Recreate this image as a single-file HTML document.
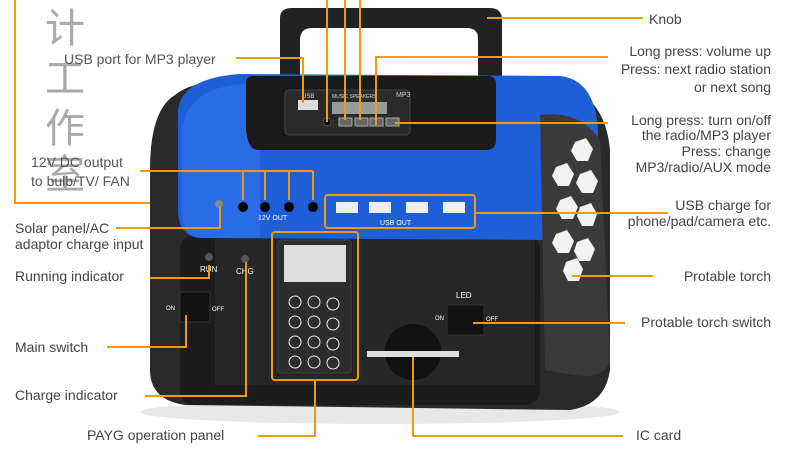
<!DOCTYPE html>
<html><head><meta charset="utf-8"><style>
html,body{margin:0;padding:0;background:#fff;}
svg{display:block;}
text{font-family:"Liberation Sans","Noto Sans CJK SC",sans-serif;fill:#444;font-size:14px;}
</style></head><body>
<svg width="790" height="463" viewBox="0 0 790 463" xmlns="http://www.w3.org/2000/svg">
<text x="45" y="42" style="font-size:40px;fill:#aaa">计</text>
<text x="45" y="92" style="font-size:40px;fill:#aaa">工</text>
<text x="45" y="142" style="font-size:40px;fill:#aaa">作</text>
<text x="45" y="188" style="font-size:40px;fill:#aaa">室</text>
<!-- handle -->
<path d="M280,80 L280,18 Q280,8 292,8 L490,8 Q502,8 502,20 L502,90 L478,90 L478,38 Q478,28 466,28 L312,28 Q300,28 300,40 L300,80 Z" fill="#222"/>
<ellipse cx="380" cy="412" rx="240" ry="12" fill="#e8e8e8"/>
<path d="M175,95 Q150,110 150,170 L150,370 Q150,400 185,405 L570,410 Q605,405 610,370 L610,150 Q605,95 560,85 L230,80 Q190,82 175,95 Z" fill="#2a2a2a"/>
<rect x="180" y="235" width="360" height="170" rx="14" fill="#1c1c1c"/>
<rect x="215" y="235" width="320" height="150" fill="#262626"/>
<path d="M178,110 Q182,78 240,74 L560,76 Q595,80 598,130 L598,215 Q596,240 560,240 L200,238 Q178,236 178,210 Z" fill="#1e5fd8"/>
<path d="M182,130 Q186,90 240,84 L260,84 L260,238 L200,238 Q182,236 182,210 Z" fill="#2a6be6"/>
<!-- top black module -->
<path d="M246,82 Q246,76 254,76 L488,76 Q496,76 496,84 L496,140 Q496,150 486,150 L258,150 Q248,150 246,130 Z" fill="#1a1a1a"/>
<rect x="285" y="90" width="125" height="45" rx="4" fill="#2a2a2a" stroke="#444"/>
<rect x="298" y="100" width="20" height="10" fill="#ddd"/>
<text x="302" y="98" style="font-size:6px;fill:#ddd">USB</text>
<text x="332" y="98" style="font-size:5px;fill:#ddd">MUSIC SPEAKERS</text>
<rect x="332" y="102" width="55" height="12" fill="#9a9a9a"/>
<circle cx="327" cy="122" r="4" fill="#000" stroke="#555"/>
<rect x="339" y="118" width="13" height="8" fill="#666" stroke="#aaa"/>
<rect x="355" y="118" width="13" height="8" fill="#666" stroke="#aaa"/>
<rect x="370" y="118" width="13" height="8" fill="#666" stroke="#aaa"/>
<rect x="386" y="118" width="13" height="8" fill="#666" stroke="#aaa"/>
<text x="396" y="97" style="font-size:7px;fill:#ccc">MP3</text>
<!-- right torch -->
<path d="M540,115 Q580,110 600,140 L610,360 Q605,380 575,375 L545,370 Z" fill="#3a3a3a"/>
<g fill="#f2f2f2">
<polygon points="575,142 586,138 593,149 588,161 577,161 571,151"/>
<polygon points="556,167 567,163 574,174 569,186 558,186 552,176"/>
<polygon points="580,174 591,170 598,181 593,193 582,193 576,183"/>
<polygon points="560,200 571,196 578,207 573,219 562,219 556,209"/>
<polygon points="580,207 591,203 597,214 593,226 582,226 577,216"/>
<polygon points="556,234 567,230 574,241 569,253 558,253 552,243"/>
<polygon points="577,242 588,238 595,249 590,261 579,261 574,251"/>
<polygon points="566,262 577,258 583,269 579,281 568,281 563,271"/>
</g>
<circle cx="219" cy="204" r="4" fill="#888"/>
<circle cx="243" cy="207" r="5" fill="#000"/><circle cx="265" cy="207" r="5" fill="#000"/>
<circle cx="289" cy="207" r="5" fill="#000"/><circle cx="313" cy="207" r="5" fill="#000"/>
<text x="258" y="220" style="font-size:7px;fill:#fff">12V  OUT</text>
<g fill="#eee"><rect x="336" y="202" width="22" height="11"/><rect x="369" y="202" width="22" height="11"/><rect x="406" y="202" width="22" height="11"/><rect x="443" y="202" width="22" height="11"/></g>
<text x="380" y="225" style="font-size:7px;fill:#fff">USB   OUT</text>
<circle cx="209" cy="257" r="4" fill="#555"/><circle cx="245" cy="259" r="4" fill="#555"/>
<text x="200" y="272" style="font-size:8px;fill:#fff">RUN</text>
<text x="236" y="274" style="font-size:8px;fill:#fff">CHG</text>
<rect x="180" y="292" width="30" height="30" fill="#111" stroke="#333"/>
<text x="166" y="310" style="font-size:6px;fill:#fff">ON</text><text x="212" y="311" style="font-size:6px;fill:#fff">OFF</text>
<rect x="447" y="305" width="37" height="30" fill="#111" stroke="#333"/>
<text x="456" y="298" style="font-size:8px;fill:#fff">LED</text>
<text x="435" y="320" style="font-size:6px;fill:#fff">ON</text><text x="486" y="321" style="font-size:6px;fill:#fff">OFF</text>
<rect x="278" y="240" width="73" height="133" rx="3" fill="#2c2c2c" stroke="#444"/>
<rect x="284" y="245" width="62" height="37" fill="#ddd"/>
<g fill="none" stroke="#eee" stroke-width="1">
<circle cx="295" cy="302" r="6"/><circle cx="314" cy="302" r="6"/><circle cx="333" cy="304" r="6"/>
<circle cx="295" cy="322" r="6"/><circle cx="314" cy="322" r="6"/><circle cx="333" cy="324" r="6"/>
<circle cx="295" cy="342" r="6"/><circle cx="314" cy="342" r="6"/><circle cx="333" cy="344" r="6"/>
<circle cx="295" cy="362" r="6"/><circle cx="314" cy="362" r="6"/><circle cx="333" cy="363" r="6"/>
</g>
<circle cx="413" cy="352" r="28" fill="#111"/>
<rect x="367" y="351" width="92" height="6" fill="#ddd"/>
<g stroke="#f29a0e" stroke-width="2" fill="none">
<path d="M487,18 H643"/>
<path d="M327,0 V122 M345,0 V120 M360,0 V120"/>
<path d="M376,125 V57 H608"/>
<path d="M395,123 H608"/>
<path d="M236,58 H303 V103"/>
<path d="M140,171 H313 M243,171 V200 M265,171 V200 M289,171 V200 M313,171 V200"/>
<path d="M15,0 V203 H150"/>
<path d="M116,228 H220 V207"/>
<path d="M150,278 H209 V265"/>
<path d="M107,347 H186 V315"/>
<path d="M145,396 H246 V262"/>
<rect x="272" y="232" width="86" height="148" rx="3"/>
<path d="M258,436 H315 V380"/>
<path d="M413,357 V436 H623"/>
<rect x="325" y="195" width="150" height="33" rx="3"/>
<path d="M475,213 H668"/>
<path d="M572,276 H653"/>
<path d="M473,323 H625"/>
</g>
<text x="64" y="64" style="font-size:14px;fill:#555">USB port for MP3 player</text>
<text x="31" y="167" style="font-size:14px;fill:#555">12V DC output</text>
<text x="31" y="186" style="font-size:14px;fill:#555">to bulb/TV/ FAN</text>
<text x="15" y="233" style="font-size:14px">Solar panel/AC</text>
<text x="15" y="249" style="font-size:14px">adaptor charge input</text>
<text x="15" y="281" style="font-size:14px">Running indicator</text>
<text x="15" y="352" style="font-size:14px">Main switch</text>
<text x="15" y="400" style="font-size:14px">Charge indicator</text>
<text x="87" y="440" style="font-size:14px">PAYG operation panel</text>
<text x="636" y="440" style="font-size:14px">IC card</text>
<text x="649" y="24" style="font-size:14px">Knob</text>
<text x="771" y="56" text-anchor="end">Long press: volume up</text>
<text x="771" y="74" text-anchor="end">Press: next radio station</text>
<text x="771" y="92" text-anchor="end">or next song</text>
<text x="771" y="125" text-anchor="end">Long press: turn on/off</text>
<text x="771" y="140" text-anchor="end">the radio/MP3 player</text>
<text x="771" y="156" text-anchor="end">Press: change</text>
<text x="771" y="172" text-anchor="end">MP3/radio/AUX mode</text>
<text x="771" y="210" text-anchor="end">USB charge for</text>
<text x="771" y="226" text-anchor="end">phone/pad/camera etc.</text>
<text x="771" y="281" text-anchor="end">Protable torch</text>
<text x="771" y="327" text-anchor="end">Protable torch switch</text>
</svg>
</body></html>
